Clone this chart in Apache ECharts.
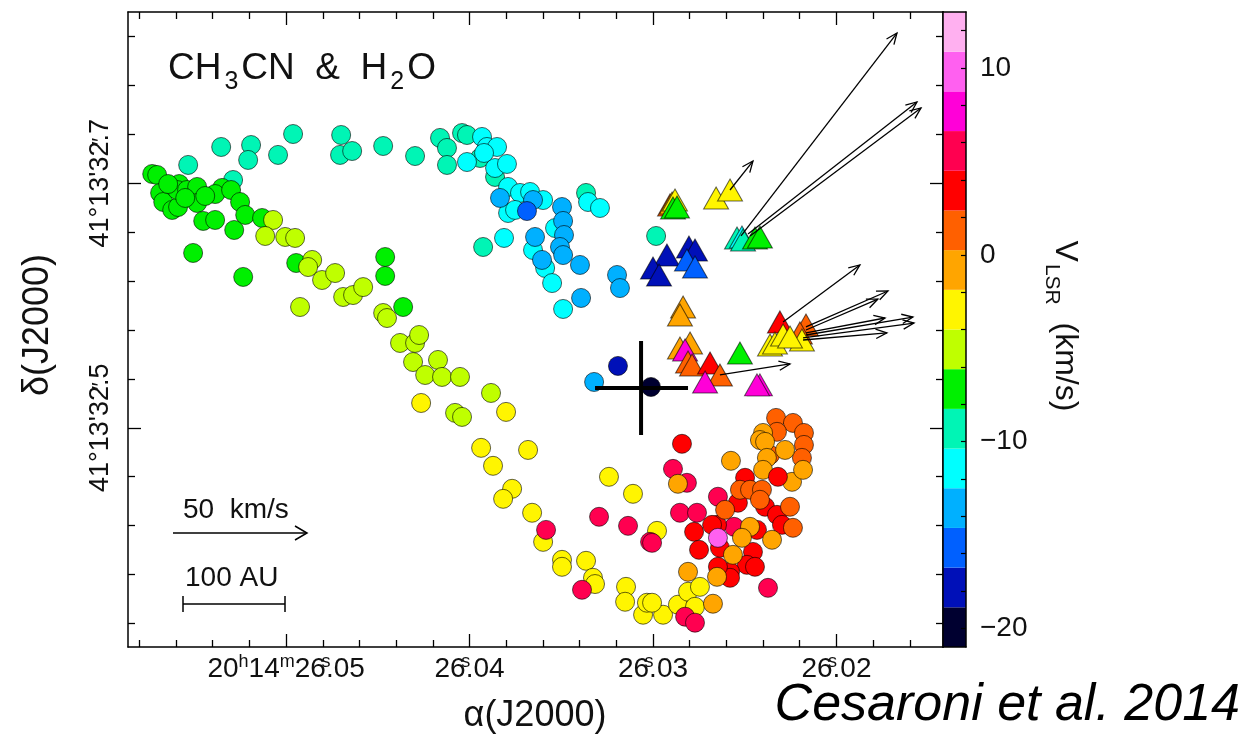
<!DOCTYPE html>
<html>
<head>
<meta charset="utf-8">
<script src="https://cdn.jsdelivr.net/npm/echarts@6/dist/echarts.min.js"></script>
<style>
html,body{margin:0;padding:0;background:#fff;}
#chart{width:1259px;height:735px;}
</style>
</head>
<body>
<div id="chart"></div>
<script>
// RA in ms of time past 20h14m26s (e.g. 40 = 26.040s); Dec in 0.01" past 41d13'32" (70 = 32.70")
// Circles: [ra, dec, vLSR]
const tealCircles = [[55.34,71.50,-9.4],[53.54,72.97,-9.6],[51.91,73.13,-9.2],[52.07,71.91,-9.5],[50.44,72.32,-9.3],[49.62,74.03,-9.6],[47.00,73.95,-9.4],[47.06,72.32,-9.5],[46.40,72.64,-9.3],[44.71,73.05,-9.7],[42.97,72.23,-9.5],[41.61,73.71,-9.4],[41.23,72.89,-9.6],[41.23,71.50,-9.3],[40.41,74.11,-9.5],[40.14,73.95,-9.8],[52.89,70.27,-9.2],[39.26,64.79,-9.5],[38.61,70.52,-9.4],[39.43,72.07,-9.6],[33.65,69.21,-9.4],[29.83,65.69,-9.5]];
const greenCircles = [[57.30,70.76,-7.1],[57.03,70.68,-7.3],[56.87,69.21,-6.9],[56.70,68.47,-7.2],[56.21,67.82,-7.0],[55.89,68.06,-7.4],[55.83,69.94,-6.8],[55.94,69.45,-7.1],[55.40,69.45,-7.3],[54.85,69.70,-7.0],[54.85,68.39,-7.2],[53.49,69.62,-6.9],[53.87,69.12,-7.1],[53.00,69.45,-7.3],[52.51,68.47,-7.0],[52.23,67.41,-7.2],[54.52,66.92,-6.9],[53.87,67.00,-7.1],[51.31,67.16,-7.4],[52.83,66.18,-7.0],[55.07,64.30,-7.2],[52.34,62.34,-7.1],[49.45,63.48,-6.8],[44.60,63.97,-7.0],[44.60,62.42,-7.2],[43.62,59.88,-7.3],[56.43,69.94,-7.1],[55.50,68.80,-7.0],[54.41,68.96,-7.2]];
const yellowGreenCircles = [[50.71,67.00,-5.1],[51.14,65.69,-5.0],[50.05,65.61,-4.9],[49.51,65.53,-5.2],[48.58,63.73,-5.0],[48.80,63.15,-5.1],[48.04,62.09,-4.8],[47.33,62.66,-5.0],[46.89,60.70,-5.2],[46.35,60.86,-4.9],[45.80,61.51,-5.1],[49.24,59.88,-5.0],[44.71,59.39,-4.9],[44.50,58.98,-5.2],[43.79,56.94,-5.0],[42.97,56.94,-5.1],[42.75,57.59,-4.8],[43.08,55.38,-5.0],[41.72,55.55,-5.1],[42.42,54.32,-4.9],[41.50,54.16,-5.2],[40.52,54.16,-5.0],[38.83,52.85,-5.1],[40.79,51.22,-4.9],[40.41,50.89,-5.0]];
const cyanCircles = [[39.32,73.79,-11.4],[39.05,72.97,-11.6],[38.50,72.97,-11.3],[40.14,71.74,-11.5],[38.61,71.25,-11.7],[37.96,71.58,-11.4],[37.90,69.70,-11.6],[37.25,69.21,-11.5],[36.70,69.29,-11.3],[35.99,68.63,-11.6],[37.90,67.57,-11.4],[37.52,67.82,-11.5],[35.34,66.34,-11.7],[36.54,64.54,-11.4],[35.88,63.07,-11.5],[35.50,61.84,-11.6],[38.12,65.53,-11.3],[33.54,68.47,-11.5],[32.89,67.98,-11.4],[34.90,59.72,-11.6],[39.21,72.48,-11.5]];
const blueCircles = [[38.34,68.80,-13.4],[36.54,68.63,-13.6],[34.96,68.06,-13.5],[34.90,66.92,-13.3],[34.85,65.77,-13.7],[36.43,65.61,-13.5],[36.05,63.73,-13.4],[35.07,64.79,-13.6],[34.90,64.13,-13.5],[33.98,63.32,-13.3],[31.96,62.50,-13.6],[31.80,61.43,-13.5],[33.92,60.62,-13.4],[33.21,53.75,-13.5],[36.87,67.73,-15.6],[31.91,55.06,-17.9],[30.11,53.34,-20.1]];
const yellowCircles = [[42.64,52.03,-3.0],[38.01,51.30,-2.9],[39.37,48.36,-3.1],[38.72,46.89,-2.8],[36.81,48.19,-3.0],[37.68,45.01,-3.2],[38.17,44.19,-2.9],[36.59,43.05,-3.0],[35.99,40.67,-3.1],[34.96,39.20,-2.9],[34.96,38.63,-3.0],[33.65,39.12,-3.2],[33.27,37.73,-2.8],[33.16,37.22,-3.0],[31.47,36.99,-3.1],[31.52,35.77,-2.9],[30.54,34.71,-3.0],[30.33,35.69,-3.1],[29.45,34.71,-2.9],[32.40,45.99,-3.0],[31.09,44.60,-3.2],[29.78,41.57,-2.9],[28.64,35.53,-3.0],[28.09,36.59,-3.1],[27.44,36.99,-2.9],[27.71,35.36,-3.0],[30.05,35.69,-3.1]];
const redCircles = [[35.83,41.65,5.5],[33.87,36.75,5.6],[32.94,42.72,5.4],[31.36,41.98,5.5],[30.16,40.67,5.7],[28.91,46.64,5.5],[28.53,43.05,5.4],[28.15,45.50,5.6],[28.25,34.55,5.5],[27.71,34.06,5.4],[23.73,36.91,5.6],[26.46,44.36,5.5],[27.60,43.05,5.3],[25.58,41.90,5.5],[30.05,40.59,5.6],
  [23.29,50.81,1.5],[22.37,50.40,1.3],[21.77,49.58,1.6],[21.77,48.60,1.5],[21.88,47.54,1.4],[23.24,49.67,1.5],[23.62,47.78,1.6],
  [24.00,49.58,-0.9],[24.17,49.00,-1.0],[23.89,48.85,-0.8],[22.80,48.19,-1.0],[23.79,47.54,-0.9],[24.00,46.56,-1.1],[22.42,45.58,-0.8],[21.82,46.56,-1.1],
  [28.42,48.69,3.5],[27.76,41.49,3.4],[27.49,40.02,3.6],[26.51,42.06,3.5],[25.37,43.87,3.3],[24.98,45.91,3.5],[23.89,43.54,3.6],[23.24,42.88,3.4],[22.97,42.06,3.5],[23.19,45.99,3.7],[24.33,41.65,3.5],[24.55,39.85,3.4],[24.88,38.79,3.6],[24.44,38.63,3.5],[25.80,38.22,3.3],[25.80,37.73,3.5],[26.78,42.06,3.6],[26.35,40.18,3.4],[26.46,38.63,3.5],
  [26.07,43.29,1.4],[25.26,44.93,1.5],[24.71,44.93,1.6],[24.06,44.93,1.3],[24.17,44.11,1.5],[22.53,43.54,1.6],[22.37,41.82,1.4],
  [28.64,45.42,-0.9],[25.75,47.30,-1.0],[24.71,41.90,-1.0],[25.15,41.00,-0.9],[23.51,40.84,-0.8],[25.64,39.61,-1.0],[26.51,37.81,-1.1],[28.09,38.22,-0.9],[26.73,35.61,-1.0],
  [26.46,41.00,10.1]];
// Triangles: [ra, dec, vLSR]
const trianglePoints = [[29.07,68.23,1.5],[28.96,68.39,-1.0],[28.80,68.63,-3.0],[28.91,67.98,-7.0],[28.69,68.06,-7.1],[26.56,68.80,-3.0],[25.80,69.45,-2.9],
  [25.42,65.53,-9.5],[25.15,65.61,-11.5],[25.09,65.36,-9.4],[24.44,65.53,-7.0],[24.17,65.61,-7.1],
  [28.04,64.79,-18.0],[27.71,64.54,-17.8],[29.24,64.13,-18.1],[30.00,63.07,-17.9],[29.67,62.50,-18.0],[28.15,63.73,-15.5],[27.71,63.15,-15.6],
  [28.36,59.88,-1.0],[28.53,59.23,-0.9],[27.98,56.94,-1.0],[28.53,56.53,-0.9],[28.25,56.37,7.5],[28.09,55.38,1.5],[27.87,55.14,1.4],[26.89,55.30,3.5],[26.35,54.32,1.5],[27.16,53.75,7.6],
  [25.26,56.12,-7.0],[24.17,53.51,7.5],[24.33,53.51,7.4],
  [23.08,58.66,3.5],[21.66,58.41,1.5],[21.99,57.76,1.6],[23.62,56.77,-3.0],[23.35,56.94,-2.9],[22.91,57.59,-3.1],[21.88,57.18,-3.0],[22.53,57.43,-2.9]];
// Proper-motion vectors: [raStart, decStart, raEnd, decEnd]
const motionArrows = [[25.80,69.45,24.55,71.82],[25.20,65.69,16.70,82.29],[24.82,65.85,15.61,76.65],[24.71,65.69,15.39,76.16],
  [22.91,58.66,18.72,63.32],[21.66,58.25,17.19,61.19],[21.66,58.00,17.74,60.53],[21.66,57.76,17.35,58.98],[21.66,57.59,15.83,59.06],
  [21.82,57.35,15.77,58.57],[21.82,57.18,17.25,57.76],[26.35,54.32,22.53,55.22]];
// Source position cross: [ra, dec, raLeft, raRight, decLow, decHigh]
const sourceCross = [[30.65,53.26,33.16,28.09,49.41,57.10]];

// Axes
const raRange = [14.19, 58.62];
const decRange = [32.07, 84.01];
const raMajorTicks = [20,30,40,50];
const raMinorTicks = [16,18,22,24,26,28,32,34,36,38,42,44,46,48,52,54,56,58];
const decMajorTicks = [50,70];
const decMinorTicks = [34,38,42,46,54,58,62,66,74,78,82];
// Colour scale
const velRange = [-21, 13];
const velTicks = [-20,-18,-16,-14,-12,-10,-8,-6,-4,-2,0,2,4,6,8,10,12];
const velLabels = [-20,-10,0,10];
const bandColors = ['#000030','#0010b8','#0060ff','#00b0ff','#00ffff','#00f5b5','#00f000','#bfff00','#fff500','#ffa500','#ff6000','#ff0000','#ff0050','#ff00d8','#ff60f0','#ffb0f0'];

const FONT = 'Liberation Sans';
const TXT = '#111';
const step = (velRange[1]-velRange[0])/bandColors.length;
const pieces = bandColors.map((c,i)=>({gte: velRange[0]+i*step, lt: velRange[0]+(i+1)*step, color: c}));

const chart = echarts.init(document.getElementById('chart'), null, {renderer:'canvas'});

const lineS = {color:'#000', width:1.5};
function xAx(pos, ticks, len, labels, showLine){
  return {type:'value', gridIndex:0, position:pos, min:raRange[0], max:raRange[1], inverse:true,
    splitLine:{show:false}, axisLine:{show:showLine, onZero:false, lineStyle:lineS},
    axisTick:{show:true, inside:true, length:len, customValues:ticks, lineStyle:{color:'#000', width:1.3}},
    axisLabel: labels ? labels : {show:false}};
}
function yAx(pos, ticks, len, labels, showLine){
  return {type:'value', gridIndex:0, position:pos, min:decRange[0], max:decRange[1],
    splitLine:{show:false}, axisLine:{show:showLine, onZero:false, lineStyle:lineS},
    axisTick:{show:true, inside:true, length:len, customValues:ticks, lineStyle:{color:'#000', width:1.3}},
    axisLabel: labels ? labels : {show:false}};
}
const raLabels = {show:true, customValues:raMajorTicks, margin:6, fontSize:28, fontFamily:FONT, color:TXT,
  formatter: function(v){
    const d = String(Math.round(v/10)).padStart(2,'0');
    if (Math.round(v)===50) return '{n|20}{u|h}{n|14}{u|m}{n|26}{z|s}{n|.'+d+'}';
    return '{n|26}{z|s}{n|.'+d+'}';
  },
  rich:{
    n:{fontSize:28, fontFamily:FONT, color:TXT, lineHeight:30, padding:[8,0,0,0], verticalAlign:'bottom'},
    u:{fontSize:18, fontFamily:FONT, color:TXT, lineHeight:18, verticalAlign:'top'},
    z:{fontSize:18, fontFamily:FONT, color:TXT, lineHeight:18, verticalAlign:'top', width:0}
  }};
const decLabels = {show:true, customValues:decMajorTicks, margin:12, rotate:90, fontSize:27, fontFamily:FONT, color:TXT,
  formatter: function(v){
    const d = String(Math.round(v/10)%10);
    return "{n|41°13'32}{z|″}{n|."+d+"}";
  },
  rich:{
    n:{fontSize:27, fontFamily:FONT, color:TXT, lineHeight:30},
    z:{fontSize:22, fontFamily:FONT, color:TXT, lineHeight:30, width:0}
  }};

function renderArrow(params, api){
  const p0 = api.coord([api.value(0), api.value(1)]);
  const p1 = api.coord([api.value(2), api.value(3)]);
  const ang = Math.atan2(p1[1]-p0[1], p1[0]-p0[0]);
  const L = 12, a = 0.4;
  const h1 = [p1[0]-L*Math.cos(ang-a), p1[1]-L*Math.sin(ang-a)];
  const h2 = [p1[0]-L*Math.cos(ang+a), p1[1]-L*Math.sin(ang+a)];
  return {type:'group', children:[
    {type:'line', shape:{x1:p0[0], y1:p0[1], x2:p1[0], y2:p1[1]}, style:{stroke:'#000', lineWidth:1.3}},
    {type:'polyline', shape:{points:[h1,p1,h2]}, style:{stroke:'#000', fill:null, lineWidth:1.3}}
  ]};
}
function renderCross(params, api){
  const l = api.coord([api.value(2), api.value(1)]);
  const r = api.coord([api.value(3), api.value(1)]);
  const b = api.coord([api.value(0), api.value(4)]);
  const t = api.coord([api.value(0), api.value(5)]);
  return {type:'group', children:[
    {type:'line', shape:{x1:l[0], y1:l[1], x2:r[0], y2:r[1]}, style:{stroke:'#000', lineWidth:4}},
    {type:'line', shape:{x1:t[0], y1:t[1], x2:b[0], y2:b[1]}, style:{stroke:'#000', lineWidth:4}}
  ]};
}

const circleData = [].concat(tealCircles, greenCircles, yellowGreenCircles, cyanCircles, blueCircles, yellowCircles, redCircles);
const markStyle = {borderColor:'rgba(0,0,0,0.6)', borderWidth:1, opacity:1};

const option = {
  animation:false,
  backgroundColor:'#fff',
  grid:[
    {left:128, top:12, width:815, height:635},
    {left:943, top:12, width:23, height:635}
  ],
  xAxis:[
    xAx('bottom', raMajorTicks, 13, raLabels, true),
    xAx('top', raMajorTicks, 13, null, true),
    xAx('bottom', raMinorTicks, 7, null, false),
    xAx('top', raMinorTicks, 7, null, false),
    {type:'value', gridIndex:1, min:0, max:1, position:'bottom', z:5, splitLine:{show:false},
      axisLine:{show:true, onZero:false, lineStyle:lineS}, axisTick:{show:false}, axisLabel:{show:false}},
    {type:'value', gridIndex:1, min:0, max:1, position:'top', z:5, splitLine:{show:false},
      axisLine:{show:true, onZero:false, lineStyle:lineS}, axisTick:{show:false}, axisLabel:{show:false}}
  ],
  yAxis:[
    yAx('left', decMajorTicks, 13, decLabels, true),
    yAx('right', decMajorTicks, 13, null, true),
    yAx('left', decMinorTicks, 7, null, false),
    yAx('right', decMinorTicks, 7, null, false),
    {type:'category', gridIndex:1, position:'left', z:5, data:bandColors.map((c,i)=>i),
      axisLine:{show:true, onZero:false, lineStyle:lineS}, axisTick:{show:false}, axisLabel:{show:false}, splitLine:{show:false}},
    {type:'value', gridIndex:1, position:'right', z:5, min:velRange[0], max:velRange[1], splitLine:{show:false},
      axisLine:{show:true, onZero:false, lineStyle:lineS},
      axisTick:{show:true, inside:true, length:5, customValues:velTicks, lineStyle:{color:'#000', width:1.2}},
      axisLabel:{show:true, customValues:velLabels, margin:14, fontSize:28, fontFamily:FONT, color:TXT,
        formatter:v => v<0 ? '\u2212'+Math.abs(v) : String(v)}}
  ],
  visualMap:{type:'piecewise', show:false, dimension:2, seriesIndex:[0,1], pieces:pieces},
  series:[
    {type:'scatter', name:'H2O masers', xAxisIndex:0, yAxisIndex:0, symbol:'circle', symbolSize:19,
      itemStyle:markStyle, data:circleData, z:3},
    {type:'scatter', name:'CH3CN', xAxisIndex:0, yAxisIndex:0, symbol:'triangle', symbolSize:[25,22],
      itemStyle:markStyle, data:trianglePoints, z:4},
    {type:'custom', xAxisIndex:0, yAxisIndex:0, renderItem:renderArrow, data:motionArrows,
      encode:{x:[0,2], y:[1,3]}, z:5, silent:true},
    {type:'custom', xAxisIndex:0, yAxisIndex:0, renderItem:renderCross, data:sourceCross,
      encode:{x:[0,2,3], y:[1,4,5]}, z:6, silent:true},
    {type:'bar', xAxisIndex:4, yAxisIndex:4, barCategoryGap:'0%', barWidth:'100%', silent:true,
      data:bandColors.map(c=>({value:1, itemStyle:{color:c}})), z:2}
  ],
  graphic:[
    {type:'text', x:168, y:50, style:{text:'{a|CH}{b|3}{a|CN  &  H}{b|2}{a|O}', rich:{
      a:{fontSize:37, fontFamily:FONT, fill:TXT, lineHeight:40, verticalAlign:'top'},
      b:{fontSize:25, fontFamily:FONT, fill:TXT, lineHeight:26, padding:[20,3,0,3], verticalAlign:'top'}}}},
    {type:'text', x:38, y:325, rotation:Math.PI/2, style:{text:'δ(J2000)', fontSize:36, fontFamily:FONT, fill:TXT, align:'center', verticalAlign:'middle'}},
    {type:'text', x:535, y:716, style:{text:'α(J2000)', fontSize:36, fontFamily:FONT, fill:TXT, align:'center', verticalAlign:'middle'}},
    {type:'text', x:1063, y:326, rotation:-Math.PI/2, style:{text:'{a|V}{b|LSR}{a|  (km/s)}', align:'center', verticalAlign:'middle', rich:{
      a:{fontSize:32, fontFamily:FONT, fill:TXT, lineHeight:36, verticalAlign:'top'},
      b:{fontSize:21, fontFamily:FONT, fill:TXT, lineHeight:22, padding:[19,0,0,2], verticalAlign:'top'}}}},
    {type:'text', x:183, y:510, style:{text:'50  km/s', fontSize:28, fontFamily:FONT, fill:TXT, verticalAlign:'middle'}},
    {type:'polyline', shape:{points:[[173,533],[307,533]]}, style:{stroke:'#000', lineWidth:1.5}},
    {type:'polyline', shape:{points:[[295,526],[307,533],[295,540]]}, style:{stroke:'#000', lineWidth:1.5, fill:null}},
    {type:'text', x:185, y:578, style:{text:'100 AU', fontSize:28, fontFamily:FONT, fill:TXT, verticalAlign:'middle'}},
    {type:'polyline', shape:{points:[[183,604],[285,604]]}, style:{stroke:'#000', lineWidth:1.5}},
    {type:'polyline', shape:{points:[[183,596],[183,612]]}, style:{stroke:'#000', lineWidth:1.5}},
    {type:'polyline', shape:{points:[[285,596],[285,612]]}, style:{stroke:'#000', lineWidth:1.5}},
    {type:'text', x:1240, y:706, style:{text:'Cesaroni et al. 2014', fontSize:52, fontStyle:'italic', fontFamily:FONT, fill:'#000', align:'right', verticalAlign:'middle'}}
  ]
};
chart.setOption(option);
</script>
</body>
</html>
